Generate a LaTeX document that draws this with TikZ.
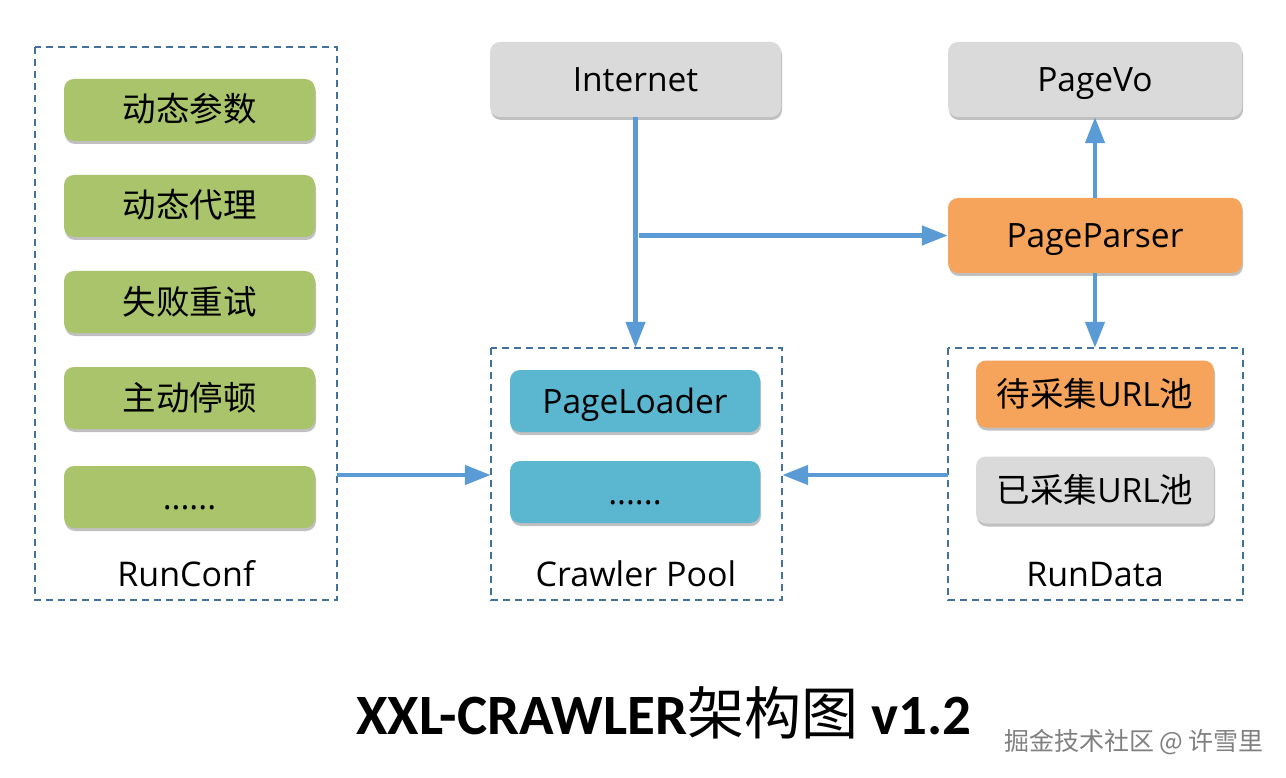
\documentclass[tikz,border=0pt]{standalone}
\usepackage{fontspec}
\setmainfont{Open Sans}
\newfontfamily\cjk{Noto Sans CJK SC}
\newfontfamily\titlefont{Carlito}
\usetikzlibrary{arrows.meta,shadows}
\definecolor{boxgreen}{HTML}{A9C46B}
\definecolor{boxblue}{HTML}{5BB6D0}
\definecolor{boxorange}{HTML}{F6A45C}
\definecolor{boxgray}{HTML}{DADADA}
\definecolor{arrowblue}{HTML}{5B9BD5}
\definecolor{dashblue}{HTML}{41719C}
\tikzset{
  card/.style={rounded corners=10pt, inner sep=0pt, minimum height=62pt,
    text height=30pt, text depth=6pt,
    drop shadow={shadow xshift=1pt, shadow yshift=-3pt, opacity=0.35, fill=black!70},
    font=\fontsize{33.5}{40}\selectfont, text=black},
  greencard/.style={card, fill=boxgreen, minimum width=251pt},
  bluecard/.style={card, fill=boxblue, minimum width=250pt},
  orangecard/.style={card, fill=boxorange},
  graycard/.style={card, fill=boxgray},
  group/.style={draw=dashblue, dash pattern=on 7pt off 5pt, line width=1.3pt},
  grouplabel/.style={font=\fontsize{34}{40}\selectfont, text=black, text height=30pt, text depth=6pt},
  flow/.style={draw=arrowblue, line width=4.5pt, -{Triangle[length=26pt,width=19pt]}},
}
\begin{document}
\begin{tikzpicture}[x=1pt,y=-1pt]
\useasboundingbox (0,0) rectangle (1286,778);
\fill[white] (0,0) rectangle (1286,778);

% groups
\draw[group] (35,47) rectangle (337,600);
\node[inner sep=0pt, minimum width=302pt, minimum height=553pt] (runconf) at (186,323.5) {};
\draw[group] (491,348) rectangle (782,600);
\node[inner sep=0pt, minimum width=291pt, minimum height=252pt] (pool) at (636.5,474) {};
\draw[group] (948,348) rectangle (1243,600);
\node[inner sep=0pt, minimum width=295pt, minimum height=252pt] (rundata) at (1095.5,474) {};

% RunConf contents
\node[greencard] (p1) at (189.5,110) {\cjk 动态参数};
\node[greencard] (p2) at (189.5,206) {\cjk 动态代理};
\node[greencard] (p3) at (189.5,302) {\cjk 失败重试};
\node[greencard] (p4) at (189.5,398) {\cjk 主动停顿};
\node[greencard] (p5) at (189.5,497) {......};
\node[grouplabel] (l1) at (186,574) {RunConf};

% Crawler pool contents
\node[bluecard] (loader) at (635,401) {PageLoader};
\node[bluecard] (more) at (635,492) {......};
\node[grouplabel] (l2) at (636,574) {Crawler Pool};

% RunData contents
\node[orangecard, minimum width=238pt, minimum height=67pt] (todo) at (1095,394) {{\cjk 待采集}URL{\cjk 池}};
\node[graycard, minimum width=238pt, minimum height=67pt] (done) at (1095,490) {{\cjk 已采集}URL{\cjk 池}};
\node[grouplabel] (l3) at (1095,574) {RunData};

% top nodes
\node[graycard, minimum width=291pt, minimum height=75pt] (internet) at (635.5,79.5) {Internet};
\node[graycard, minimum width=294pt, minimum height=75pt] (pagevo) at (1095,79.5) {PageVo};
\node[orangecard, minimum width=294pt, minimum height=75pt] (parser) at (1095,235.5) {PageParser};

% connectors
\draw[flow] (internet.south) -- (internet.south |- pool.north);
\coordinate (br) at ([xshift=3pt]internet.south |- parser.west);
\draw[flow] (br) -- (parser.west);
\draw[flow] (parser.north) -- (pagevo.south);
\draw[flow] (parser.south) -- (parser.south |- rundata.north);
\draw[flow] (runconf.east |- 0,475) -- (pool.west |- 0,475);
\draw[flow] (rundata.west |- 0,475) -- (pool.east |- 0,475);

% title
\node[font=\titlefont\bfseries\fontsize{57}{64}\selectfont] (title) at (664,713)
  {XXL-CRAWLER{\cjk\mdseries 架构图} v1.2};
\node[font=\cjk\fontsize{25}{30}\selectfont, text=black!50] (mark) at (1134,742)
  {掘金技术社区 @ 许雪里};
\end{tikzpicture}
\end{document}
